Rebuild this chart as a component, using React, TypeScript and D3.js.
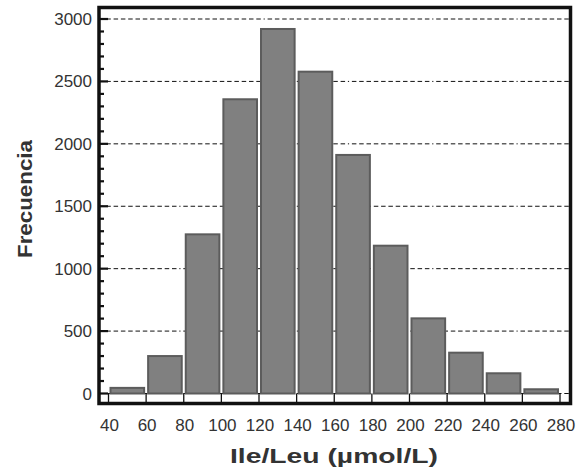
import React from "react";
import * as d3 from "d3";

const binStarts = [40, 60, 80, 100, 120, 140, 160, 180, 200, 220, 240, 260];
const binWidth = 20;
const frequencies = [45, 300, 1275, 2357, 2920, 2578, 1911, 1184, 602, 327, 162, 34];
const xTicks = [40, 60, 80, 100, 120, 140, 160, 180, 200, 220, 240, 260, 280];
const yMajorTicks = [0, 500, 1000, 1500, 2000, 2500, 3000];
const yMinorTicks = d3.range(0, 3001, 100);

const W = 585;
const H = 470;
const frame = { left: 99, right: 570.5, top: 7.5, bottom: 403.5 };

export default function App() {
  const x = d3.scaleLinear().domain([40, 280]).range([108.5, 560]);
  const y = d3.scaleLinear().domain([0, 3000]).range([393.5, 19]);
  const dash = "4.5,2.8,4.5,2.8,4.5,2.8,4.5,2.8,4.5,2.8,4.5,2.8,4.5,2.8,4.5,2.8,4.5,2.8,4.5,2.8,4.5,2.8,1.2,2.8";
  const tickFont = "'Liberation Sans', Arial, sans-serif";
  return (
    <svg
      width={W}
      height={H}
      style={{ position: "absolute", left: 0, top: 0, background: "#fff" }}
    >
      <rect x={0} y={0} width={W} height={H} fill="#fff" />
      {/* grid */}
      {yMajorTicks.map((t) => (
        <line
          key={"g" + t}
          x1={frame.left}
          x2={frame.right}
          y1={y(t)}
          y2={y(t)}
          stroke="#111"
          strokeWidth={1}
          strokeDasharray={dash}
        />
      ))}
      {/* bars */}
      {binStarts.map((b, i) => {
        const x0 = x(b) + 2;
        const x1 = x(b + binWidth) - 2;
        const yt = y(frequencies[i]);
        return (
          <rect
            key={"b" + b}
            x={x0}
            y={yt}
            width={x1 - x0}
            height={y(0) - yt}
            fill="#808080"
            stroke="#5c5c5c"
            strokeWidth={2}
          />
        );
      })}
      {/* x bin-edge ticks */}
      {xTicks.map((t) => (
        <line
          key={"xt" + t}
          x1={x(t)}
          x2={x(t)}
          y1={frame.bottom}
          y2={y(0)}
          stroke="#111"
          strokeWidth={1.3}
        />
      ))}
      {/* y ticks */}
      {yMinorTicks.map((t) => (
        <line
          key={"ym" + t}
          x1={frame.left}
          x2={t % 500 === 0 ? frame.left + 9 : frame.left + 5}
          y1={y(t)}
          y2={y(t)}
          stroke="#111"
          strokeWidth={2.2}
        />
      ))}
      {/* frame */}
      <rect
        x={frame.left}
        y={frame.top}
        width={frame.right - frame.left}
        height={frame.bottom - frame.top}
        fill="none"
        stroke="#111"
        strokeWidth={3.5}
      />
      {/* y tick labels */}
      {yMajorTicks.map((t) => (
        <text
          key={"yl" + t}
          x={92}
          y={y(t) + 6}
          textAnchor="end"
          fontFamily={tickFont}
          fontSize={17}
          fill="#333"
        >
          {t}
        </text>
      ))}
      {/* x tick labels */}
      {xTicks.map((t) => (
        <text
          key={"xl" + t}
          x={x(t) + 1}
          y={431}
          textAnchor="middle"
          fontFamily={tickFont}
          fontSize={17}
          fill="#333"
        >
          {t}
        </text>
      ))}
      {/* axis titles */}
      <text
        x={334}
        y={463}
        textAnchor="middle"
        fontFamily={tickFont}
        fontWeight="bold"
        fontSize={19.5}
        fill="#333"
        textLength={208}
        lengthAdjust="spacingAndGlyphs"
      >
        Ile/Leu (µmol/L)
      </text>
      <text
        transform={`translate(31.5,199) rotate(-90)`}
        textAnchor="middle"
        fontFamily={tickFont}
        fontWeight="bold"
        fontSize={20}
        fill="#333"
        textLength={118}
        lengthAdjust="spacingAndGlyphs"
      >
        Frecuencia
      </text>
    </svg>
  );
}
